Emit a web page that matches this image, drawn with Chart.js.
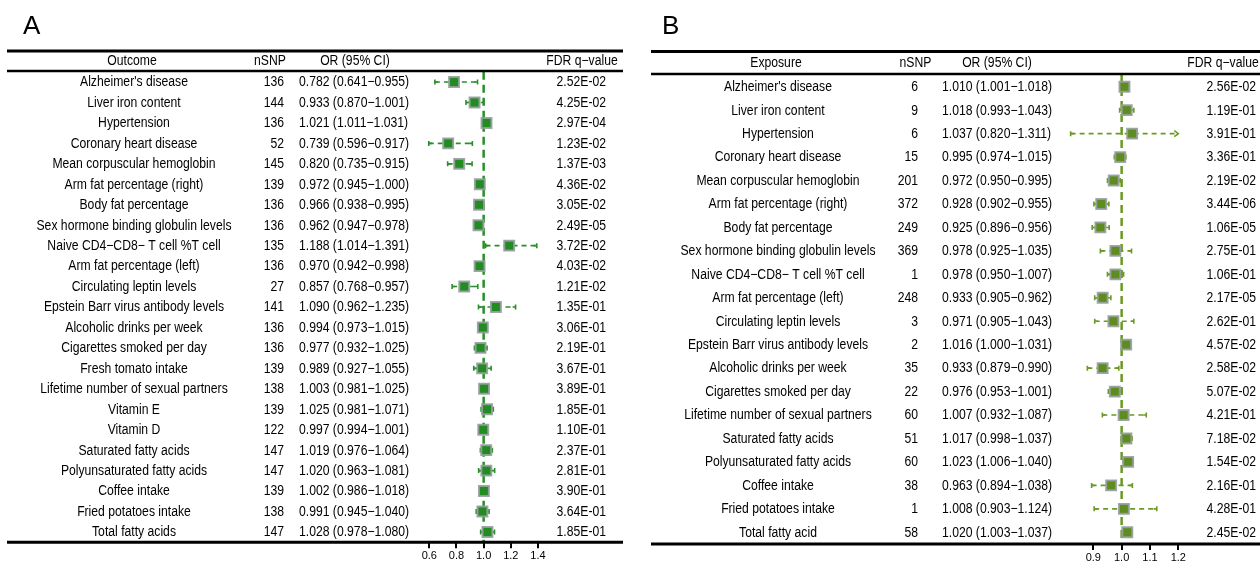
<!DOCTYPE html>
<html>
<head>
<meta charset="utf-8">
<script src="https://cdn.jsdelivr.net/npm/chart.js@4.4.0/dist/chart.umd.min.js"></script>
<style>
html, body { margin: 0; padding: 0; background: #fff; }
#wrap { position: relative; width: 1260px; height: 563px; overflow: hidden; }
.panel { position: absolute; top: 0; width: 630px; height: 563px; }
</style>
</head>
<body>
<div id="wrap">
    <div class="panel" style="left:0"><canvas id="chartA" width="630" height="563"></canvas></div>
    <div class="panel" style="left:630px"><canvas id="chartB" width="630" height="563"></canvas></div>
</div>
<script>
// ---- panel A: outcomes ----
var outcomeA = ["Alzheimer's disease", "Liver iron content", "Hypertension", "Coronary heart disease",
    "Mean corpuscular hemoglobin", "Arm fat percentage (right)", "Body fat percentage",
    "Sex hormone binding globulin levels", "Naive CD4\u2212CD8\u2212 T cell %T cell", "Arm fat percentage (left)",
    "Circulating leptin levels", "Epstein Barr virus antibody levels", "Alcoholic drinks per week",
    "Cigarettes smoked per day", "Fresh tomato intake", "Lifetime number of sexual partners", "Vitamin E",
    "Vitamin D", "Saturated fatty acids", "Polyunsaturated fatty acids", "Coffee intake",
    "Fried potatoes intake", "Total fatty acids"];
var nsnpA = [136, 144, 136, 52, 145, 139, 136, 136, 135, 136, 27, 141, 136, 136, 139, 138, 139, 122, 147, 147, 139, 138, 147];
var orA = [0.782, 0.933, 1.021, 0.739, 0.820, 0.972, 0.966, 0.962, 1.188, 0.970, 0.857, 1.090, 0.994, 0.977, 0.989, 1.003, 1.025, 0.997, 1.019, 1.020, 1.002, 0.991, 1.028];
var loA = [0.641, 0.870, 1.011, 0.596, 0.735, 0.945, 0.938, 0.947, 1.014, 0.942, 0.768, 0.962, 0.973, 0.932, 0.927, 0.981, 0.981, 0.994, 0.976, 0.963, 0.986, 0.945, 0.978];
var hiA = [0.955, 1.001, 1.031, 0.917, 0.915, 1.000, 0.995, 0.978, 1.391, 0.998, 0.957, 1.235, 1.015, 1.025, 1.055, 1.025, 1.071, 1.001, 1.064, 1.081, 1.018, 1.040, 1.080];
var fdrA = ["2.52E-02", "4.25E-02", "2.97E-04", "1.23E-02", "1.37E-03", "4.36E-02", "3.05E-02", "2.49E-05",
    "3.72E-02", "4.03E-02", "1.21E-02", "1.35E-01", "3.06E-01", "2.19E-01", "3.67E-01", "3.89E-01",
    "1.85E-01", "1.10E-01", "2.37E-01", "2.81E-01", "3.90E-01", "3.64E-01", "1.85E-01"];
var ticksA = [0.6, 0.8, 1.0, 1.2, 1.4];

// ---- panel B: exposures ----
var exposureB = ["Alzheimer's disease", "Liver iron content", "Hypertension", "Coronary heart disease",
    "Mean corpuscular hemoglobin", "Arm fat percentage (right)", "Body fat percentage",
    "Sex hormone binding globulin levels", "Naive CD4\u2212CD8\u2212 T cell %T cell", "Arm fat percentage (left)",
    "Circulating leptin levels", "Epstein Barr virus antibody levels", "Alcoholic drinks per week",
    "Cigarettes smoked per day", "Lifetime number of sexual partners", "Saturated fatty acids",
    "Polyunsaturated fatty acids", "Coffee intake", "Fried potatoes intake", "Total fatty acid"];
var nsnpB = [6, 9, 6, 15, 201, 372, 249, 369, 1, 248, 3, 2, 35, 22, 60, 51, 60, 38, 1, 58];
var orB = [1.010, 1.018, 1.037, 0.995, 0.972, 0.928, 0.925, 0.978, 0.978, 0.933, 0.971, 1.016, 0.933, 0.976, 1.007, 1.017, 1.023, 0.963, 1.008, 1.020];
var loB = [1.001, 0.993, 0.820, 0.974, 0.950, 0.902, 0.896, 0.925, 0.950, 0.905, 0.905, 1.000, 0.879, 0.953, 0.932, 0.998, 1.006, 0.894, 0.903, 1.003];
var hiB = [1.018, 1.043, 1.311, 1.015, 0.995, 0.955, 0.956, 1.035, 1.007, 0.962, 1.043, 1.031, 0.990, 1.001, 1.087, 1.037, 1.040, 1.038, 1.124, 1.037];
var fdrB = ["2.56E-02", "1.19E-01", "3.91E-01", "3.36E-01", "2.19E-02", "3.44E-06", "1.06E-05", "2.75E-01",
    "1.06E-01", "2.17E-05", "2.62E-01", "4.57E-02", "2.58E-02", "5.07E-02", "4.21E-01", "7.18E-02",
    "1.54E-02", "2.16E-01", "4.28E-01", "2.45E-02"];
var ticksB = [0.9, 1.0, 1.1, 1.2];

var FONT = '"Liberation Sans", Arial, Helvetica, sans-serif';

function ciText(or, lo, hi) {
    return or.toFixed(3) + " (" + lo.toFixed(3) + "\u2212" + hi.toFixed(3) + ")";
}

// R-style narrow text
function squeezeText(ctx, s, x, y, align) {
    ctx.save();
    ctx.translate(x, y);
    ctx.scale(0.87, 1);
    ctx.textAlign = align;
    ctx.textBaseline = 'middle';
    ctx.fillText(s, 0, 0);
    ctx.restore();
}

var forestPlugin = {
    id: 'forest',
    beforeDatasetsDraw: function(chart, args, o) {
        var ctx = chart.ctx;
        var xs = chart.scales.x;
        var ys = chart.scales.y;
        var area = chart.chartArea;
        ctx.save();
        ctx.strokeStyle = o.lineColor;

        // null line at OR = 1
        var x1 = xs.getPixelForValue(1);
        ctx.lineWidth = 2.5;
        ctx.setLineDash([8, 5]);
        ctx.beginPath();
        ctx.moveTo(x1, area.top);
        ctx.lineTo(x1, area.bottom);
        ctx.stroke();

        // confidence intervals
        ctx.lineWidth = 1.6;
        for (var i = 0; i < o.lo.length; i++) {
            var y = ys.getPixelForValue(i);
            var clipped = o.hi[i] > xs.max;
            var xa = xs.getPixelForValue(o.lo[i]);
            var xb = xs.getPixelForValue(clipped ? xs.max : o.hi[i]);
            ctx.setLineDash([5, 4]);
            ctx.beginPath();
            ctx.moveTo(xa, y);
            ctx.lineTo(xb, y);
            ctx.stroke();
            ctx.setLineDash([]);
            ctx.beginPath();
            ctx.moveTo(xa, y - 2.5);
            ctx.lineTo(xa, y + 2.5);
            ctx.moveTo(xa, y);
            ctx.lineTo(xa + 3, y);
            if (clipped) {
                ctx.moveTo(xb - 4, y - 3);
                ctx.lineTo(xb, y);
                ctx.lineTo(xb - 4, y + 3);
            } else {
                ctx.moveTo(xb, y - 2.5);
                ctx.lineTo(xb, y + 2.5);
                ctx.moveTo(xb, y);
                ctx.lineTo(xb - 3, y);
            }
            ctx.stroke();
        }
        ctx.restore();
    },
    afterDraw: function(chart, args, o) {
        var ctx = chart.ctx;
        var ys = chart.scales.y;
        var area = chart.chartArea;
        ctx.save();
        ctx.fillStyle = '#000';

        // panel letter
        ctx.font = '26px ' + FONT;
        ctx.textAlign = 'left';
        ctx.textBaseline = 'alphabetic';
        ctx.fillText(o.letter, o.letterX, 34);

        // table rules
        ctx.strokeStyle = '#000';
        ctx.lineWidth = 3;
        ctx.beginPath();
        ctx.moveTo(o.ruleL, o.topY);
        ctx.lineTo(o.ruleR, o.topY);
        ctx.moveTo(o.ruleL, area.bottom);
        ctx.lineTo(o.ruleR, area.bottom);
        ctx.stroke();
        ctx.lineWidth = 2.5;
        ctx.beginPath();
        ctx.moveTo(o.ruleL, o.headY);
        ctx.lineTo(o.ruleR, o.headY);
        ctx.stroke();

        // header row
        ctx.font = '14px ' + FONT;
        squeezeText(ctx, o.headers[0], o.headX[0], o.headTextY, 'center');
        squeezeText(ctx, 'nSNP', o.headX[1], o.headTextY, 'center');
        squeezeText(ctx, 'OR (95% CI)', o.headX[2], o.headTextY, 'center');
        squeezeText(ctx, 'FDR q\u2212value', o.headX[3], o.headTextY, 'center');

        // body rows
        for (var i = 0; i < o.labels.length; i++) {
            var y = ys.getPixelForValue(i) + 0.5;
            squeezeText(ctx, o.labels[i], o.colX[0], y, 'center');
            squeezeText(ctx, String(o.nsnp[i]), o.colX[1], y, 'right');
            squeezeText(ctx, ciText(o.or[i], o.lo[i], o.hi[i]), o.colX[2], y, 'left');
            squeezeText(ctx, o.fdr[i], o.colX[3], y, 'right');
        }
        ctx.restore();
    }
};

function makeForest(id, p) {
    var ctx = document.getElementById(id).getContext('2d');
    var n = p.labels.length;
    return new Chart(ctx, {
        type: 'scatter',
        data: {
            datasets: [{
                data: p.or.map(function(v, i) { return {x: v, y: i}; }),
                pointStyle: 'rect',
                pointRadius: 7,
                pointHoverRadius: 7,
                backgroundColor: p.boxColor,
                borderColor: 'rgba(150,158,160,0.9)',
                borderWidth: 2,
                clip: false
            }]
        },
        options: {
            responsive: false,
            animation: false,
            events: [],
            layout: {
                padding: {left: p.areaL, right: 630 - p.areaR, top: p.areaT, bottom: 0}
            },
            plugins: {
                legend: {display: false},
                tooltip: {enabled: false},
                forest: p
            },
            scales: {
                x: {
                    type: 'linear',
                    min: p.ticks[0],
                    max: p.ticks[p.ticks.length - 1],
                    afterBuildTicks: function(s) {
                        s.ticks = p.ticks.map(function(v) { return {value: v}; });
                    },
                    afterFit: function(s) { s.height = 563 - p.areaB; },
                    border: {display: false},
                    grid: {drawOnChartArea: false, drawTicks: true, tickLength: 6, color: '#000', lineWidth: 2},
                    ticks: {
                        color: '#000',
                        padding: 1,
                        maxRotation: 0,
                        autoSkip: false,
                        font: {family: FONT, size: 11},
                        callback: function(v) { return Number(v).toFixed(1); }
                    }
                },
                y: {
                    type: 'linear',
                    display: false,
                    reverse: true,
                    min: -0.5,
                    max: n - 0.5
                }
            }
        },
        plugins: [forestPlugin]
    });
}

makeForest('chartA', {
    labels: outcomeA, nsnp: nsnpA, or: orA, lo: loA, hi: hiA, fdr: fdrA, ticks: ticksA,
    letter: 'A', letterX: 23, headers: ['Outcome'],
    areaL: 429.3, areaR: 538, areaT: 71.8, areaB: 542.2,
    topY: 51, headY: 71, ruleL: 7, ruleR: 623,
    headTextY: 61, headX: [132, 270, 355, 582],
    colX: [134, 284, 299, 606],
    boxColor: '#228b22', lineColor: '#2a8f2a'
});

makeForest('chartB', {
    labels: exposureB, nsnp: nsnpB, or: orB, lo: loB, hi: hiB, fdr: fdrB, ticks: ticksB,
    letter: 'B', letterX: 32, headers: ['Exposure'],
    areaL: 463.3, areaR: 548.3, areaT: 75, areaB: 544,
    topY: 51.5, headY: 74, ruleL: 21, ruleR: 630,
    headTextY: 63, headX: [146, 285.5, 367, 593],
    colX: [148, 288, 312, 626],
    boxColor: '#5e8c1e', lineColor: '#6a9a22'
});
</script>
</body>
</html>
